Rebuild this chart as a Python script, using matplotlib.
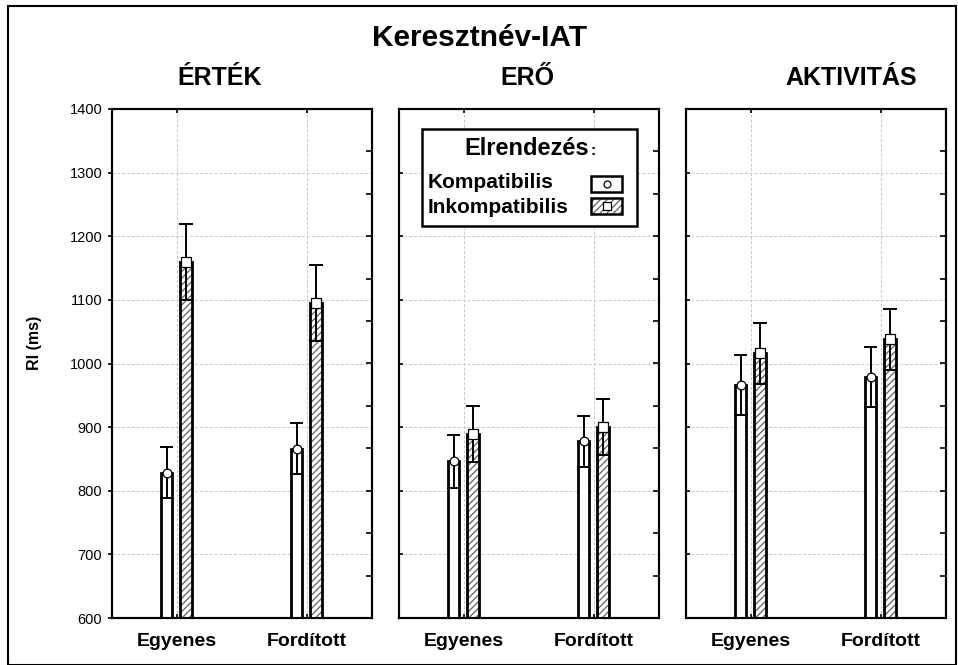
import numpy as np
import matplotlib
matplotlib.use("Agg")
import matplotlib.pyplot as plt
from matplotlib.patches import Rectangle
from matplotlib.lines import Line2D

plt.rcParams["font.family"] = ["Liberation Sans", "DejaVu Sans"]
plt.rcParams["hatch.linewidth"] = 1.0

# data
panels = ["ÉRTÉK", "ERŐ", "AKTIVITÁS"]
conditions = ["Egyenes", "Fordított"]
komp_mean = [[828, 866], [846, 878], [966, 979]]
komp_err = [[40, 40], [41, 40], [47, 47]]
ink_mean = [[1160, 1095], [889, 900], [1016, 1038]]
ink_err = [[60, 60], [44, 44], [48, 48]]

y_ticks = [600, 700, 800, 900, 1000, 1100, 1200, 1300, 1400]

W, H = 958, 665
fig = plt.figure(figsize=(W / 100, H / 100), dpi=100)

panel_left = [112, 399, 686]
title_x = [220, 527, 851]
bar_w = 0.09
offsets = [-0.08, 0.07]


def draw_bar(ax, x, mean, err, hatched, marker):
    base = 600
    if hatched:
        ax.bar(x, mean - base, bar_w, bottom=base, color="white",
               edgecolor="#6e6e6e", hatch="/////", linewidth=0, zorder=3)
    else:
        ax.bar(x, mean - base, bar_w, bottom=base, color="white",
               linewidth=0, zorder=3)
    ax.bar(x, mean - base, bar_w, bottom=base, facecolor="none",
           edgecolor="black", linewidth=2.0, zorder=4)
    # whisker
    ax.plot([x, x], [mean - err, mean + err], color="black", lw=1.4, zorder=5)
    ax.plot([x - bar_w / 2, x + bar_w / 2], [mean + err, mean + err],
            color="black", lw=1.4, zorder=5)
    ax.plot([x - bar_w / 2, x + bar_w / 2], [mean - err, mean - err],
            color="black", lw=1.4, zorder=5)
    ax.plot(x, mean, marker=marker, ms=6.3 if marker == "o" else 6.5,
            mfc="white", mec="black", mew=0.9, zorder=6, clip_on=False)


axes = []
for p in range(3):
    ax = fig.add_axes([panel_left[p] / W, 1 - 618 / H, 260 / W, 509 / H])
    axes.append(ax)
    xs = np.arange(len(conditions)) + 0.5
    for i, x in enumerate(xs):
        draw_bar(ax, x + offsets[0], komp_mean[p][i], komp_err[p][i], False, "o")
        draw_bar(ax, x + offsets[1], ink_mean[p][i], ink_err[p][i], True, "s")

    ax.set_xlim(0, 2)
    ax.set_ylim(600, 1400)
    ax.set_xticks(xs)
    ax.set_xticklabels(conditions, fontsize=14, fontweight="bold")
    ax.set_yticks(y_ticks)
    ax.grid(True, color="#c8c8c8", linestyle=(0, (3, 2)), linewidth=0.7)
    ax.set_axisbelow(True)
    for s in ax.spines.values():
        s.set_linewidth(1.5)
    ax.tick_params(axis="x", direction="in", length=3, width=1.2, pad=11,
                   top=True)
    if p == 0:
        ax.tick_params(axis="y", direction="out", length=3, width=1.2,
                       labelsize=10.5, pad=4)
        ax.set_ylabel("RI (ms)", fontsize=11.5, fontweight="bold")
        ax.yaxis.set_label_coords(-0.27, 0.54)
    else:
        ax.tick_params(axis="y", direction="in", length=3, width=1.2,
                       labelleft=False)
    # right axis with its own even divisions
    ax2 = ax.twinx()
    ax2.set_ylim(600, 1400)
    ax2.set_yticks(np.linspace(600, 1400, 13))
    ax2.tick_params(axis="y", direction="in", length=4, width=1.2,
                    labelright=False)
    for s in ax2.spines.values():
        s.set_linewidth(1.5)

    fig.text(title_x[p] / W, 1 - 78 / H, panels[p], fontsize=18,
             fontweight="bold", ha="center", va="center")

fig.text(480 / W, 1 - 38 / H, "Keresztnév-IAT", fontsize=21.5,
         fontweight="bold", ha="center", va="center")

# legend box in the middle panel
lax = axes[1]
tr = lax.transAxes
lax.add_patch(Rectangle((0.088, 0.770), 0.827, 0.191, transform=tr,
                        facecolor="white", edgecolor="black", lw=1.8,
                        zorder=10, clip_on=False))
ttl = lax.text(0.49, 0.923, "Elrendezés", transform=tr, fontsize=17,
               fontweight="bold", ha="center", va="center", zorder=11)
lax.annotate(":", xy=(1.0, 0.0), xycoords=ttl, xytext=(1, 1),
             textcoords="offset points", fontsize=11, fontweight="bold",
             ha="left", va="bottom", zorder=11)
lax.text(0.112, 0.855, "Kompatibilis", transform=tr, fontsize=15,
         fontweight="bold", ha="left", va="center", zorder=11)
lax.text(0.112, 0.807, "Inkompatibilis", transform=tr, fontsize=15,
         fontweight="bold", ha="left", va="center", zorder=11)
lax.add_patch(Rectangle((0.739, 0.837), 0.119, 0.031, transform=tr,
                        facecolor="white", edgecolor="black", lw=1.8,
                        zorder=11))
lax.add_patch(Rectangle((0.739, 0.794), 0.119, 0.031, transform=tr,
                        facecolor="white", edgecolor="#6e6e6e", hatch="/////",
                        lw=0, zorder=11))
lax.add_patch(Rectangle((0.739, 0.794), 0.119, 0.031, transform=tr,
                        facecolor="none", edgecolor="black", lw=1.8,
                        zorder=12))
lax.add_line(Line2D([0.7985], [0.8525], transform=tr, marker="o", ms=5,
                    mfc="white", mec="black", mew=0.9, zorder=13))
lax.add_line(Line2D([0.7985], [0.8095], transform=tr, marker="s", ms=5.5,
                    mfc="white", mec="black", mew=0.9, zorder=13))

# outer frame of the picture
fig.add_artist(Rectangle((8 / W, 0), (956 - 8) / W, 1 - 6 / H,
                         transform=fig.transFigure, facecolor="none",
                         edgecolor="black", lw=1.5))

fig.savefig("out.png", dpi=100)
